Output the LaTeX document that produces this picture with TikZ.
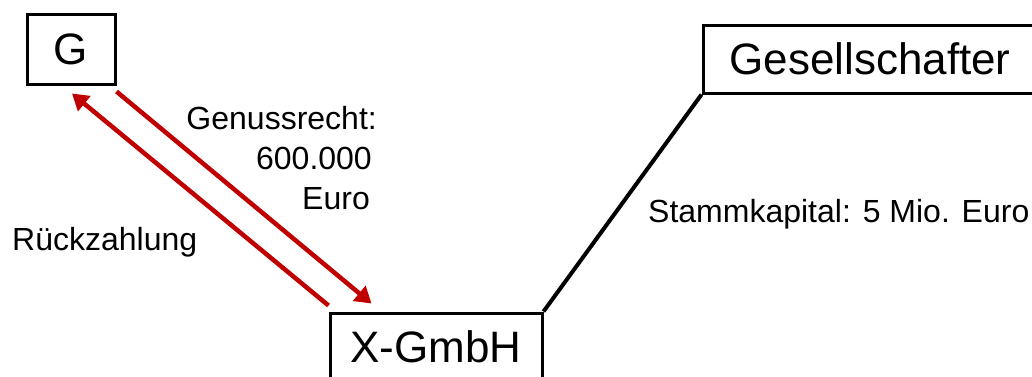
\documentclass[tikz,border=0pt]{standalone}
\usepackage{fontspec}
\setmainfont{Liberation Sans}
\usepackage{xcolor}
\usetikzlibrary{arrows.meta}
\definecolor{darkred}{HTML}{C00000}

\begin{document}
\begin{tikzpicture}[x=1pt,y=-1pt]
    \tikzset{box/.style={draw, line width=3pt, inner sep=0pt, font=\fontsize{44}{53}\selectfont},
             flow/.style={draw=darkred, line width=4.5pt, -{Triangle[length=16pt, width=19pt]}},
             lbl/.style={inner sep=0pt, font=\fontsize{32}{40}\selectfont}}
    \clip (0,0) rectangle (1032,376);
    % boxes
    \node[box, minimum width=88pt, minimum height=70pt] (G) at (71,49) {G};
    \node[box, minimum width=334pt, minimum height=68pt] (Ges) at (870,59) {Gesellschafter};
    \node[box, minimum width=212pt, minimum height=68pt] (X) at (436,347) {X-GmbH};

    % share capital line
    \draw[line width=4pt] (X.north east) -- (Ges.south west);
    \node[lbl, anchor=base west] (stamm) at (648,222) {Stammkapital: 5 Mio. Euro};

    % participation right and repayment
    \draw[flow] ([yshift=-6pt]G.south east) -- ([xshift=43pt, yshift=8pt]X.north west);
    \draw[flow] ([yshift=6pt]X.north west) -- ([xshift=1pt, yshift=-8pt]G.south);
    \node[lbl, align=right, anchor=east] (genuss) at (377,158) {Genussrecht:\\600.000\kern5pt\\Euro\kern7pt};
    \node[lbl, anchor=base west] (rueck) at (12,250) {Rückzahlung};
\end{tikzpicture}
\end{document}
